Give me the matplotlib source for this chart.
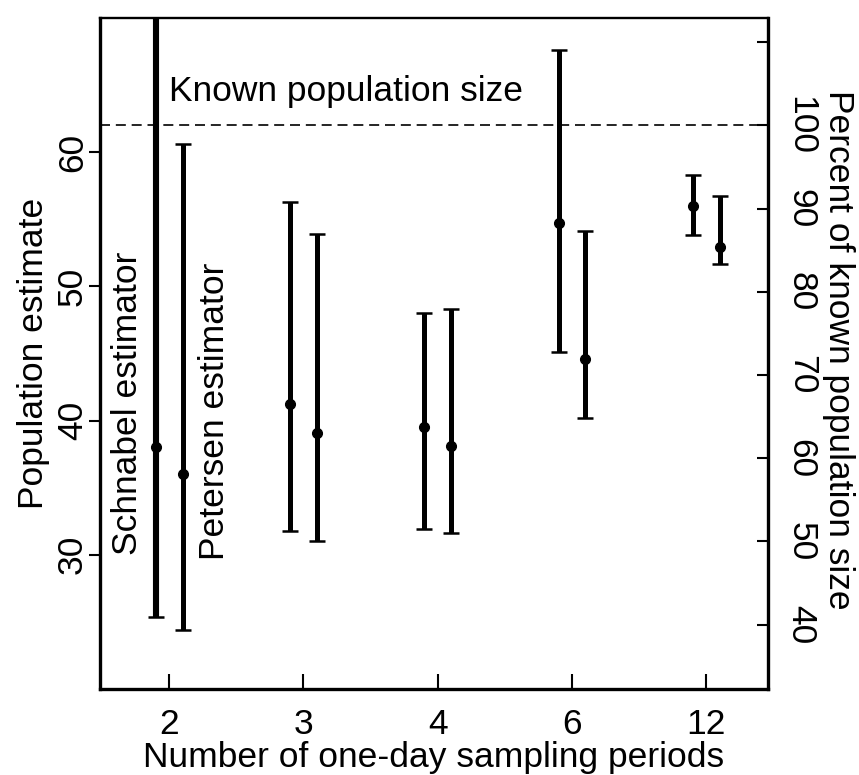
import matplotlib
matplotlib.use("Agg")
import matplotlib.pyplot as plt
import numpy as np

plt.rcParams['font.family'] = ['Liberation Sans', 'DejaVu Sans']

periods = ["2", "3", "4", "6", "12"]
known_pop = 62

schnabel_est = [38.0, 41.2, 39.5, 54.7, 56.0]
schnabel_lo = [25.4, 31.8, 31.9, 45.1, 53.8]
schnabel_hi = [75.0, 56.3, 48.0, 67.6, 58.3]

petersen_est = [36.0, 39.1, 38.1, 44.6, 52.9]
petersen_lo = [24.4, 31.0, 31.6, 40.2, 51.7]
petersen_hi = [60.6, 53.9, 48.3, 54.1, 56.7]

left_ticks = [30, 40, 50, 60]
pct_ticks = [40, 50, 60, 70, 80, 90, 100, 110]
pct_labels = ["40", "50", "60", "70", "80", "90", "100", ""]

W, H = 859, 775
fig = plt.figure(figsize=(W / 100, H / 100), dpi=100)
ax = fig.add_axes([100 / W, 1 - 689 / H, 668 / W, 671 / H])

x = np.arange(len(periods))
off = 0.1
FS = 25.5

for xs, est, lo, hi in [(x - off, schnabel_est, schnabel_lo, schnabel_hi),
                        (x + off, petersen_est, petersen_lo, petersen_hi)]:
    for i in range(len(xs)):
        lw = 4.4 if hi[i] > 70 else 3.6
        ax.errorbar([xs[i]], [est[i]], yerr=[[est[i] - lo[i]], [hi[i] - est[i]]],
                    fmt='o', color='black', ms=7, elinewidth=lw, capsize=6,
                    capthick=1.8, zorder=3)

ax.axhline(known_pop, color='black', lw=1.2, ls=(0, (6, 3.5)), zorder=2)

ax.set_xlim(-0.515, 4.46)
ax.set_ylim(20, 70)
ax.set_xticks(x)
ax.set_xticklabels(periods, fontsize=FS)
ax.set_yticks(left_ticks)
ax.set_yticklabels([str(t) for t in left_ticks], fontsize=FS, rotation=90, va='center')
ax.tick_params(axis='y', direction='out', length=8, width=1.5, pad=0)
ax.tick_params(axis='x', direction='in', length=11, width=1.5, pad=14)

for s in ['left', 'bottom', 'right']:
    ax.spines[s].set_linewidth(2.4)
ax.spines['top'].set_linewidth(1.7)

ax.set_xlabel("Number of one-day sampling periods", fontsize=FS, labelpad=0)
ax.set_ylabel("Population estimate", fontsize=FS, labelpad=4)

ax2 = ax.twinx()
ax2.set_ylim(20, 70)
ax2.set_yticks([known_pop * p / 100 for p in pct_ticks])
ax2.set_yticklabels(pct_labels, fontsize=FS)
plt.setp(ax2.get_yticklabels(), rotation=-90, va='center', ha='left')
ax2.tick_params(axis='y', direction='in', length=8, width=1.5, pad=12)
for s in ax2.spines.values():
    s.set_visible(False)
fig.text(838 / W, 1 - 350 / H, "Percent of known population size", fontsize=FS,
         rotation=-90, ha='center', va='center')

ax.text(0.0, 64.5, "Known population size", fontsize=FS, ha='left', va='center')
ax.text(-0.31, 41.3, "Schnabel estimator", fontsize=FS, rotation=90, ha='center', va='center')
ax.text(0.34, 40.7, "Petersen estimator", fontsize=FS, rotation=90, ha='center', va='center')

fig.savefig("out.png", dpi=100)
